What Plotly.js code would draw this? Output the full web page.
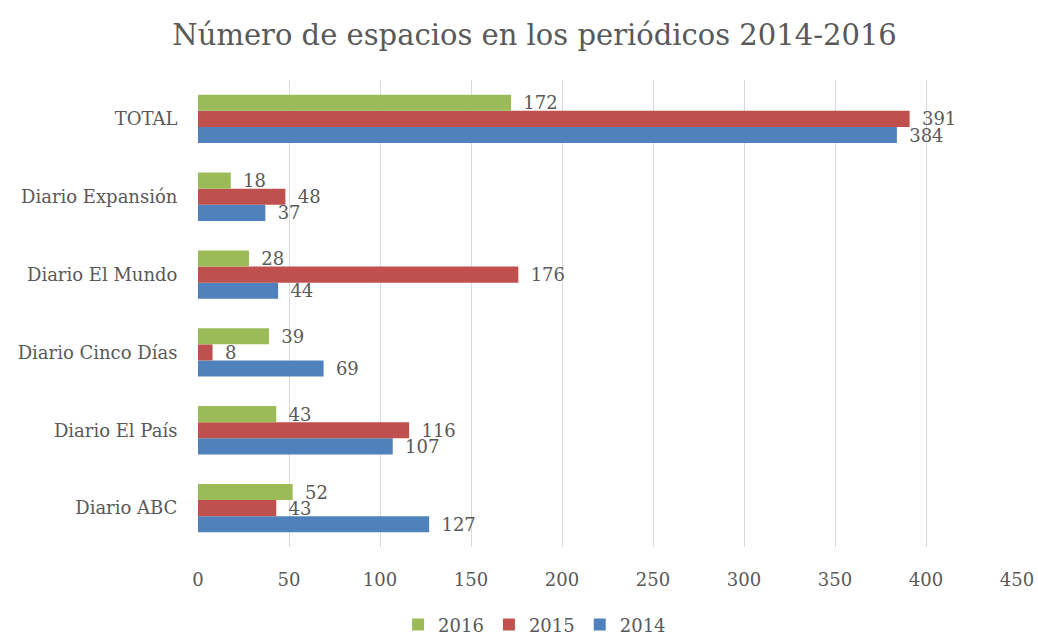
<!DOCTYPE html>
<html>
<head>
<meta charset="utf-8">
<script src="https://cdn.plot.ly/plotly-3.0.1.min.js"></script>
<style>html,body{margin:0;padding:0;background:#fff;}#chart{width:1038px;height:635px;}</style>
</head>
<body>
<div id="chart"></div>
<script>
var categories = ['Diario ABC', 'Diario El País', 'Diario Cinco Días', 'Diario El Mundo', 'Diario Expansión', 'TOTAL'];
var values2014 = [127, 107, 69, 44, 37, 384];
var values2015 = [43, 116, 8, 176, 48, 391];
var values2016 = [52, 43, 39, 28, 18, 172];
var seriesNames = ['2014', '2015', '2016'];
var xTicks = [0, 50, 100, 150, 200, 250, 300, 350, 400, 450];

var FONT = 'DejaVu Serif, Liberation Serif, serif';
var TXT = '#595959';
function mk(name, vals, color) {
  return {
    type: 'bar', orientation: 'h', name: name,
    y: categories, x: vals,
    marker: {color: color},
    text: vals.map(function (v) { return '\u2009 ' + v; }), textposition: 'outside',
    constraintext: 'none',
    textfont: {family: FONT, size: 18, color: TXT},
    cliponaxis: false, hoverinfo: 'x+y'
  };
}
var data = [
  mk(seriesNames[0], values2014, '#4F81BD'),
  mk(seriesNames[1], values2015, '#C0504D'),
  mk(seriesNames[2], values2016, '#9BBB59')
];
var layout = {
  width: 1038, height: 635,
  margin: {l: 198, r: 21, t: 80, b: 88},
  paper_bgcolor: '#fff', plot_bgcolor: '#fff',
  title: {text: 'Número de espacios en los periódicos 2014-2016', x: 0.515, xanchor: 'center', y: 0.945, yanchor: 'middle',
          font: {family: FONT, size: 29, color: TXT}},
  barmode: 'group', bargap: 0.38, bargroupgap: 0,
  xaxis: {range: [0, 450], tickvals: xTicks, ticktext: xTicks.map(String), showgrid: true, gridcolor: '#D9D9D9', gridwidth: 1,
          zeroline: false, showline: false, ticks: 'outside', ticklen: 16, tickcolor: 'rgba(0,0,0,0)',
          tickfont: {family: FONT, size: 18, color: TXT}, automargin: false, fixedrange: true},
  yaxis: {type: 'category', categoryorder: 'array', categoryarray: categories, showgrid: false, zeroline: false, showline: false,
          ticks: 'outside', ticklen: 16, tickcolor: 'rgba(0,0,0,0)', tickfont: {family: FONT, size: 18, color: TXT},
          automargin: false, fixedrange: true},
  showlegend: true,
  legend: {orientation: 'h', xref: 'paper', x: 0.411, xanchor: 'center', yref: 'container', y: 0.016, yanchor: 'middle',
           traceorder: 'reversed', font: {family: FONT, size: 18, color: TXT}, itemwidth: 30}
};
Plotly.newPlot('chart', data, layout, {displayModeBar: false, staticPlot: true});
</script>
</body>
</html>
